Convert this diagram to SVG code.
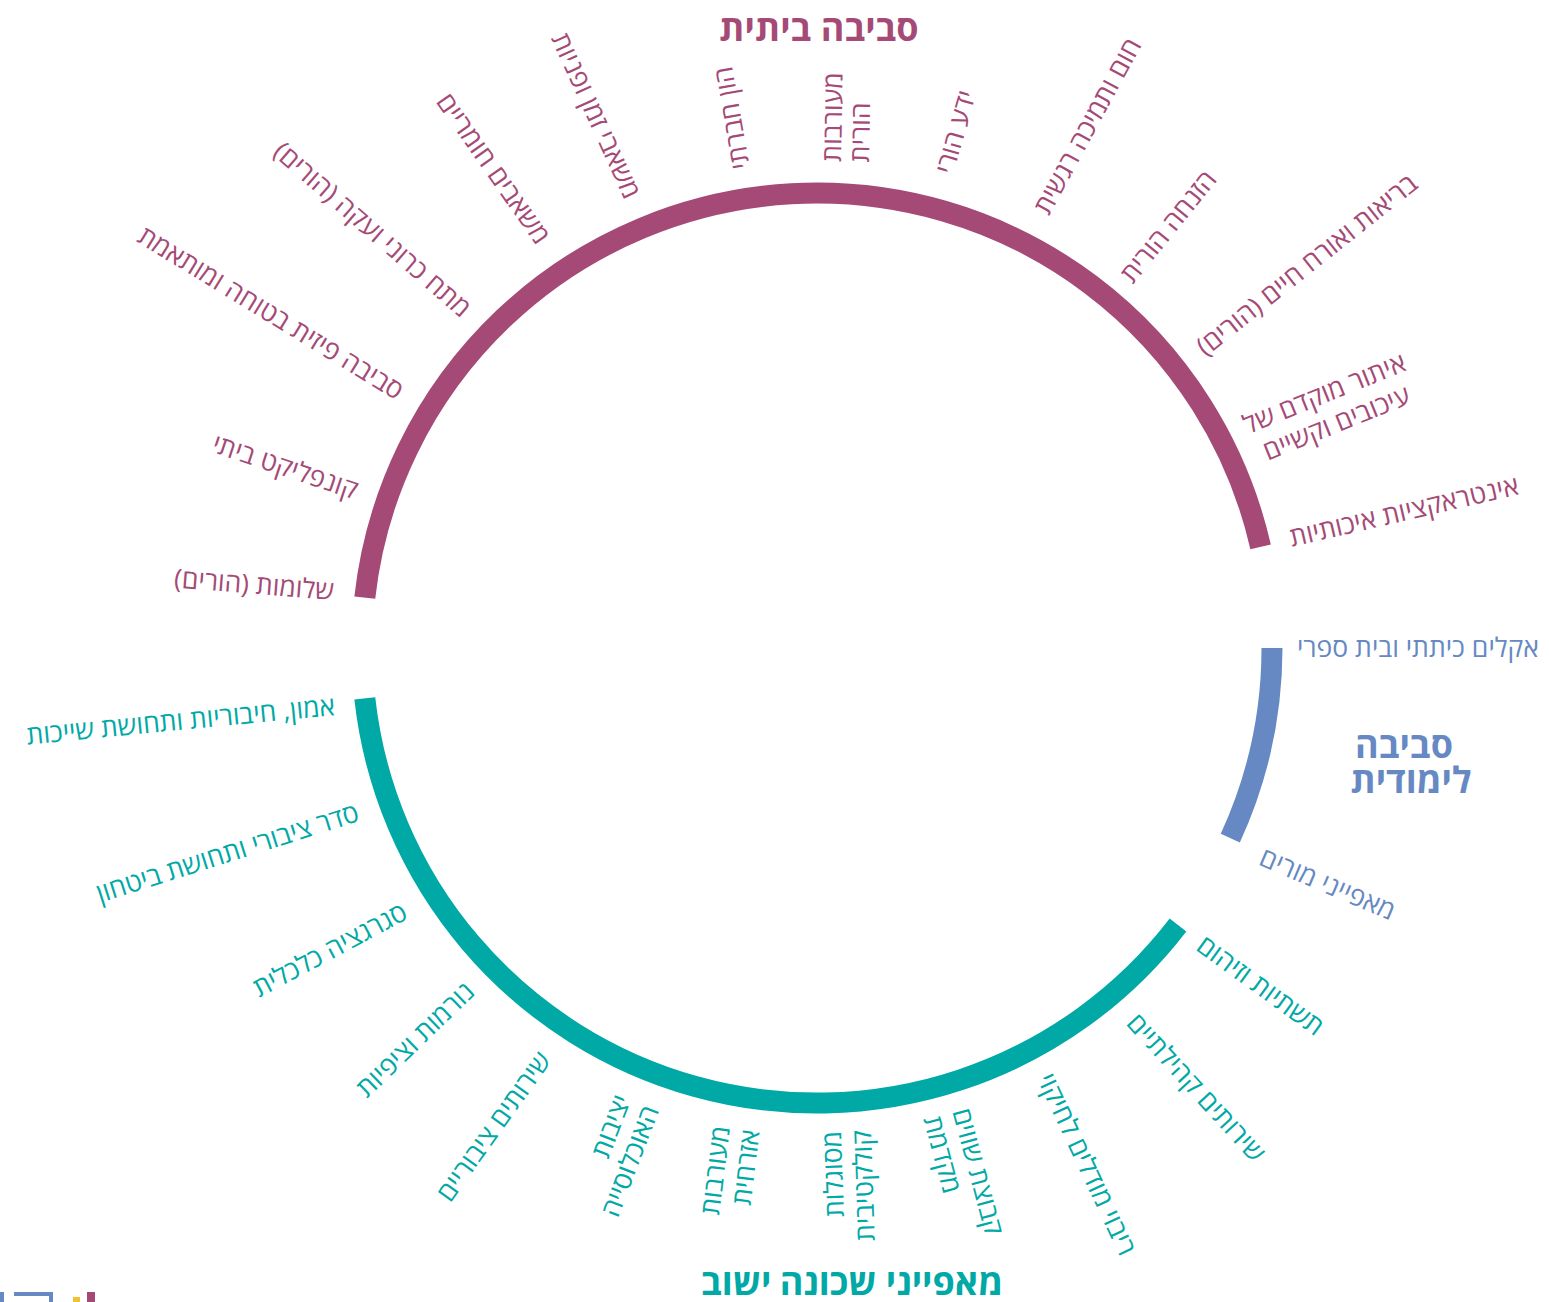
<svg xmlns="http://www.w3.org/2000/svg" width="1549" height="1302" viewBox="0 0 1549 1302">
<style>
text { font-family: "Open Sans", "DejaVu Sans", "Liberation Sans", sans-serif; direction: rtl; font-size: 26.5px; }
.p { fill: #a54a76; }
.b { fill: #6689c3; }
.t { fill: #00a9a6; }
.near { text-anchor: end; }
.far { text-anchor: start; }
.mid { text-anchor: middle; }
.title { font-weight: 700; font-size: 36px; }
.arc { fill: none; stroke-width: 21; }
</style>
<rect width="1549" height="1302" fill="#ffffff"/>
<g id="connectors">
  <path id="arc-home" class="arc" stroke="#a54a76" d="M 364.8 597.6 A 455 455 0 0 1 1260.6 546.9"/>
  <path id="arc-learning" class="arc" stroke="#6689c3" d="M 1272 648 A 455 455 0 0 1 1230.3 838.1"/>
  <path id="arc-neighborhood" class="arc" stroke="#00a9a6" d="M 1178 925 A 455 455 0 0 1 364.8 698.4"/>
</g>
<g id="title-home"><text class="p title mid" x="819" y="41">סביבה ביתית</text></g>
<g id="title-learning">
  <text class="b title mid" x="1404" y="758">סביבה</text>
  <text class="b title mid" x="1411" y="793">לימודית</text>
</g>
<g id="title-neighborhood">
  <text class="t title far" x="1003" y="1295">מאפייני שכונה</text>
  <text class="t title near" x="701" y="1295">ישוב</text>
</g>
<g id="home-labels">
  <g id="n-interactions"><text class="p near" transform="translate(1290,538) rotate(-13)" y="9">אינטראקציות איכותיות</text></g>
  <g id="n-early"><text class="p mid" transform="translate(1328,402) rotate(-22)"><tspan x="0" y="0">איתור מוקדם של</tspan><tspan x="0" y="32">עיכובים וקשיים</tspan></text></g>
  <g id="n-health"><text class="p near" transform="translate(1200,350) rotate(-38.5)" y="9">בריאות ואורח חיים (הורים)</text></g>
  <g id="n-neglect"><text class="p near" transform="translate(1126,279) rotate(-51)" y="9">הזנחה הורית</text></g>
  <g id="n-warmth"><text class="p near" transform="translate(1041,212) rotate(-61.5)" y="9">חום ותמיכה רגשית</text></g>
  <g id="n-knowledge"><text class="p near" transform="translate(944,173) rotate(-74)" y="9">ידע הורי</text></g>
  <g id="n-involvement"><text class="p near" transform="translate(846,162) rotate(-89)"><tspan x="0" y="-5">מעורבות</tspan><tspan x="0" y="23">הורית</tspan></text></g>
  <g id="n-social"><text class="p near" transform="translate(741,169) rotate(-100)" y="9">הון חברתי</text></g>
  <g id="n-time"><text class="p far" transform="translate(633,197) rotate(65.5)" y="9">משאבי זמן ופניות</text></g>
  <g id="n-material"><text class="p far" transform="translate(544,241) rotate(55)" y="9">משאבים חומריים</text></g>
  <g id="n-stress"><text class="p far" transform="translate(467,312) rotate(41)" y="9">מתח כרוני ועקה (הורים)</text></g>
  <g id="n-physical"><text class="p far" transform="translate(401,393) rotate(31.5)" y="9">סביבה פיזית בטוחה ומותאמת</text></g>
  <g id="n-conflict"><text class="p far" transform="translate(357,491) rotate(18.5)" y="9">קונפליקט ביתי</text></g>
  <g id="n-wellbeing"><text class="p far" transform="translate(334,591) rotate(4.5)" y="9">שלומות (הורים)</text></g>
</g>
<g id="learning-labels">
  <g id="n-climate"><text class="b near" transform="translate(1297,648)" y="9">אקלים כיתתי ובית ספרי</text></g>
  <g id="n-teachers"><text class="b near" transform="translate(1261,856) rotate(23)" y="9">מאפייני מורים</text></g>
</g>
<g id="neighborhood-labels">
  <g id="n-trust"><text class="t far" transform="translate(335,706) rotate(-5.5)" y="9">אמון, חיבוריות ותחושת שייכות</text></g>
  <g id="n-order"><text class="t far" transform="translate(358,812) rotate(-17.5)" y="9">סדר ציבורי ותחושת ביטחון</text></g>
  <g id="n-segregation"><text class="t far" transform="translate(405,910) rotate(-28)" y="9">סגרגציה כלכלית</text></g>
  <g id="n-norms"><text class="t far" transform="translate(470,987) rotate(-44)" y="9">נורמות וציפיות</text></g>
  <g id="n-public"><text class="t far" transform="translate(545,1055) rotate(-54.5)" y="9">שירותים ציבוריים</text></g>
  <g id="n-stability"><text class="t far" transform="translate(623,1096) rotate(-69)"><tspan x="0" y="9">יציבות</tspan><tspan x="0" y="39">האוכלוסייה</tspan></text></g>
  <g id="n-civic"><text class="t far" transform="translate(721,1126) rotate(-83)"><tspan x="0" y="9">מעורבות</tspan><tspan x="0" y="39">אזרחית</tspan></text></g>
  <g id="n-efficacy"><text class="t far" transform="translate(832,1131) rotate(-92)"><tspan x="0" y="9">מסוגלות</tspan><tspan x="0" y="39">קולקטיבית</tspan></text></g>
  <g id="n-peers"><text class="t near" transform="translate(961,1109) rotate(75)"><tspan x="0" y="9">קבוצת שווים</tspan><tspan x="0" y="39">מקדמת</tspan></text></g>
  <g id="n-models"><text class="t near" transform="translate(1045,1075) rotate(65)" y="9">ריבוי מודלים לחיקוי</text></g>
  <g id="n-community"><text class="t near" transform="translate(1132,1018) rotate(47.5)" y="9">שירותים קהילתיים</text></g>
  <g id="n-infrastructure"><text class="t near" transform="translate(1200,942) rotate(36)" y="9">תשתיות וזיהום</text></g>
</g>
<g id="logo-fragment">
  <rect x="0" y="1292" width="4" height="10" fill="#6689c3"/>
  <path d="M 14 1292 H 53 V 1302 H 49 V 1296 H 14 Z" fill="#6689c3"/>
  <rect x="73" y="1297" width="7" height="5" fill="#f2c12e"/>
  <rect x="87" y="1292" width="8" height="10" fill="#a54a76"/>
</g>
</svg>
